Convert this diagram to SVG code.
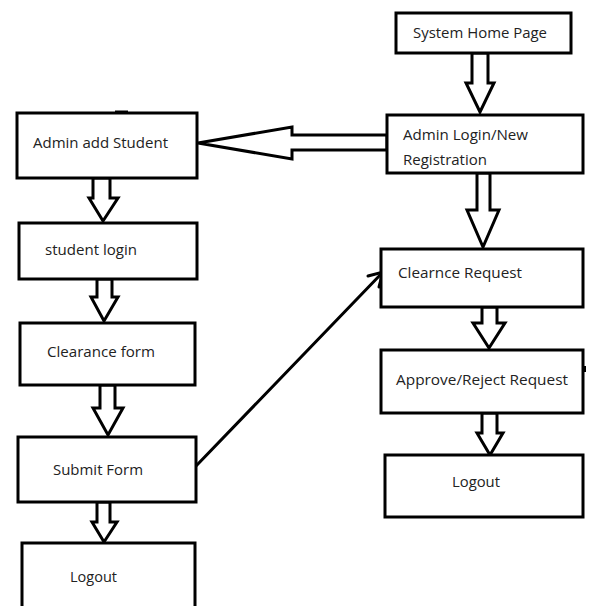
<svg xmlns="http://www.w3.org/2000/svg" width="590" height="606" viewBox="0 0 590 606">
<style>
.box{fill:#fff;stroke:#000;stroke-width:3}
.fat{fill:#fff;stroke:#000;stroke-width:3;stroke-linejoin:miter}
.lbl{font-family:"Open Sans","Liberation Sans",sans-serif;font-size:14px;fill:#222}
.ln{fill:none;stroke:#000;stroke-width:3;stroke-linecap:round}
</style>
<rect width="590" height="606" fill="#fff"/>
<g id="connectors">
<polygon class="fat" points="472,53 488,53 488,83 494,83 480,112 466,83 472,83"/>
<polygon class="fat" points="477,173 490,173 490,210 499,210 483,247 467,210 477,210"/>
<polygon class="fat" points="482,307 497,307 497,323 505,323 489,348 473,323 482,323"/>
<polygon class="fat" points="482,413 497,413 497,433 503,433 490,455 477,433 482,433"/>
<polygon class="fat" points="387,135 292,135 292,127 198,143 292,159 292,150 387,150"/>
<polygon class="fat" points="93,178 110,178 110,198 118,198 103,221 89,198 93,198"/>
<polygon class="fat" points="97,279 112,279 112,297 118,297 104,321 91,297 97,297"/>
<polygon class="fat" points="100,385 115,385 115,408 123,408 108,435 93,408 100,408"/>
<polygon class="fat" points="97,502 110,502 110,522 117,522 104,542 92,522 97,522"/>
<line class="ln" x1="196" y1="466" x2="383" y2="272"/>
<polyline class="ln" points="368,276 383,272 379,287"/>
</g>
<g id="n-home"><rect class="box" x="396" y="13" width="175" height="40"/><text class="lbl" x="413" y="38" textLength="134" lengthAdjust="spacingAndGlyphs">System Home Page</text></g>
<g id="n-adminlogin"><rect class="box" x="387" y="115" width="196" height="58"/><text class="lbl" x="403" y="140" textLength="125" lengthAdjust="spacingAndGlyphs">Admin Login/New</text><text class="lbl" x="403" y="165" textLength="84" lengthAdjust="spacingAndGlyphs">Registration</text></g>
<g id="n-clearreq"><rect class="box" x="381" y="249" width="202" height="58"/><text class="lbl" x="398" y="278" textLength="124" lengthAdjust="spacingAndGlyphs">Clearnce Request</text></g>
<g id="n-approve"><rect class="box" x="381" y="350" width="202" height="63"/><line x1="585" y1="366" x2="585" y2="372" stroke="#000" stroke-width="2"/><text class="lbl" x="396" y="385" textLength="172" lengthAdjust="spacingAndGlyphs">Approve/Reject Request</text></g>
<g id="n-logout-r"><rect class="box" x="385" y="455" width="198" height="62"/><text class="lbl" x="452" y="487" textLength="48" lengthAdjust="spacingAndGlyphs">Logout</text></g>
<g id="n-addstudent"><rect class="box" x="17" y="113" width="180" height="65"/><line x1="115" y1="112" x2="128" y2="112" stroke="#000" stroke-width="3"/><text class="lbl" x="33" y="148" textLength="135" lengthAdjust="spacingAndGlyphs">Admin add Student</text></g>
<g id="n-studentlogin"><rect class="box" x="19" y="223" width="178" height="56"/><text class="lbl" x="45" y="255" textLength="92" lengthAdjust="spacingAndGlyphs">student login</text></g>
<g id="n-clearform"><rect class="box" x="20" y="323" width="175" height="62"/><text class="lbl" x="47" y="357" textLength="108" lengthAdjust="spacingAndGlyphs">Clearance form</text></g>
<g id="n-submit"><rect class="box" x="18" y="437" width="178" height="65"/><text class="lbl" x="53" y="475" textLength="90" lengthAdjust="spacingAndGlyphs">Submit Form</text></g>
<g id="n-logout-l"><rect class="box" x="22" y="543" width="173" height="72"/><text class="lbl" x="70" y="582" textLength="47" lengthAdjust="spacingAndGlyphs">Logout</text></g>
</svg>
